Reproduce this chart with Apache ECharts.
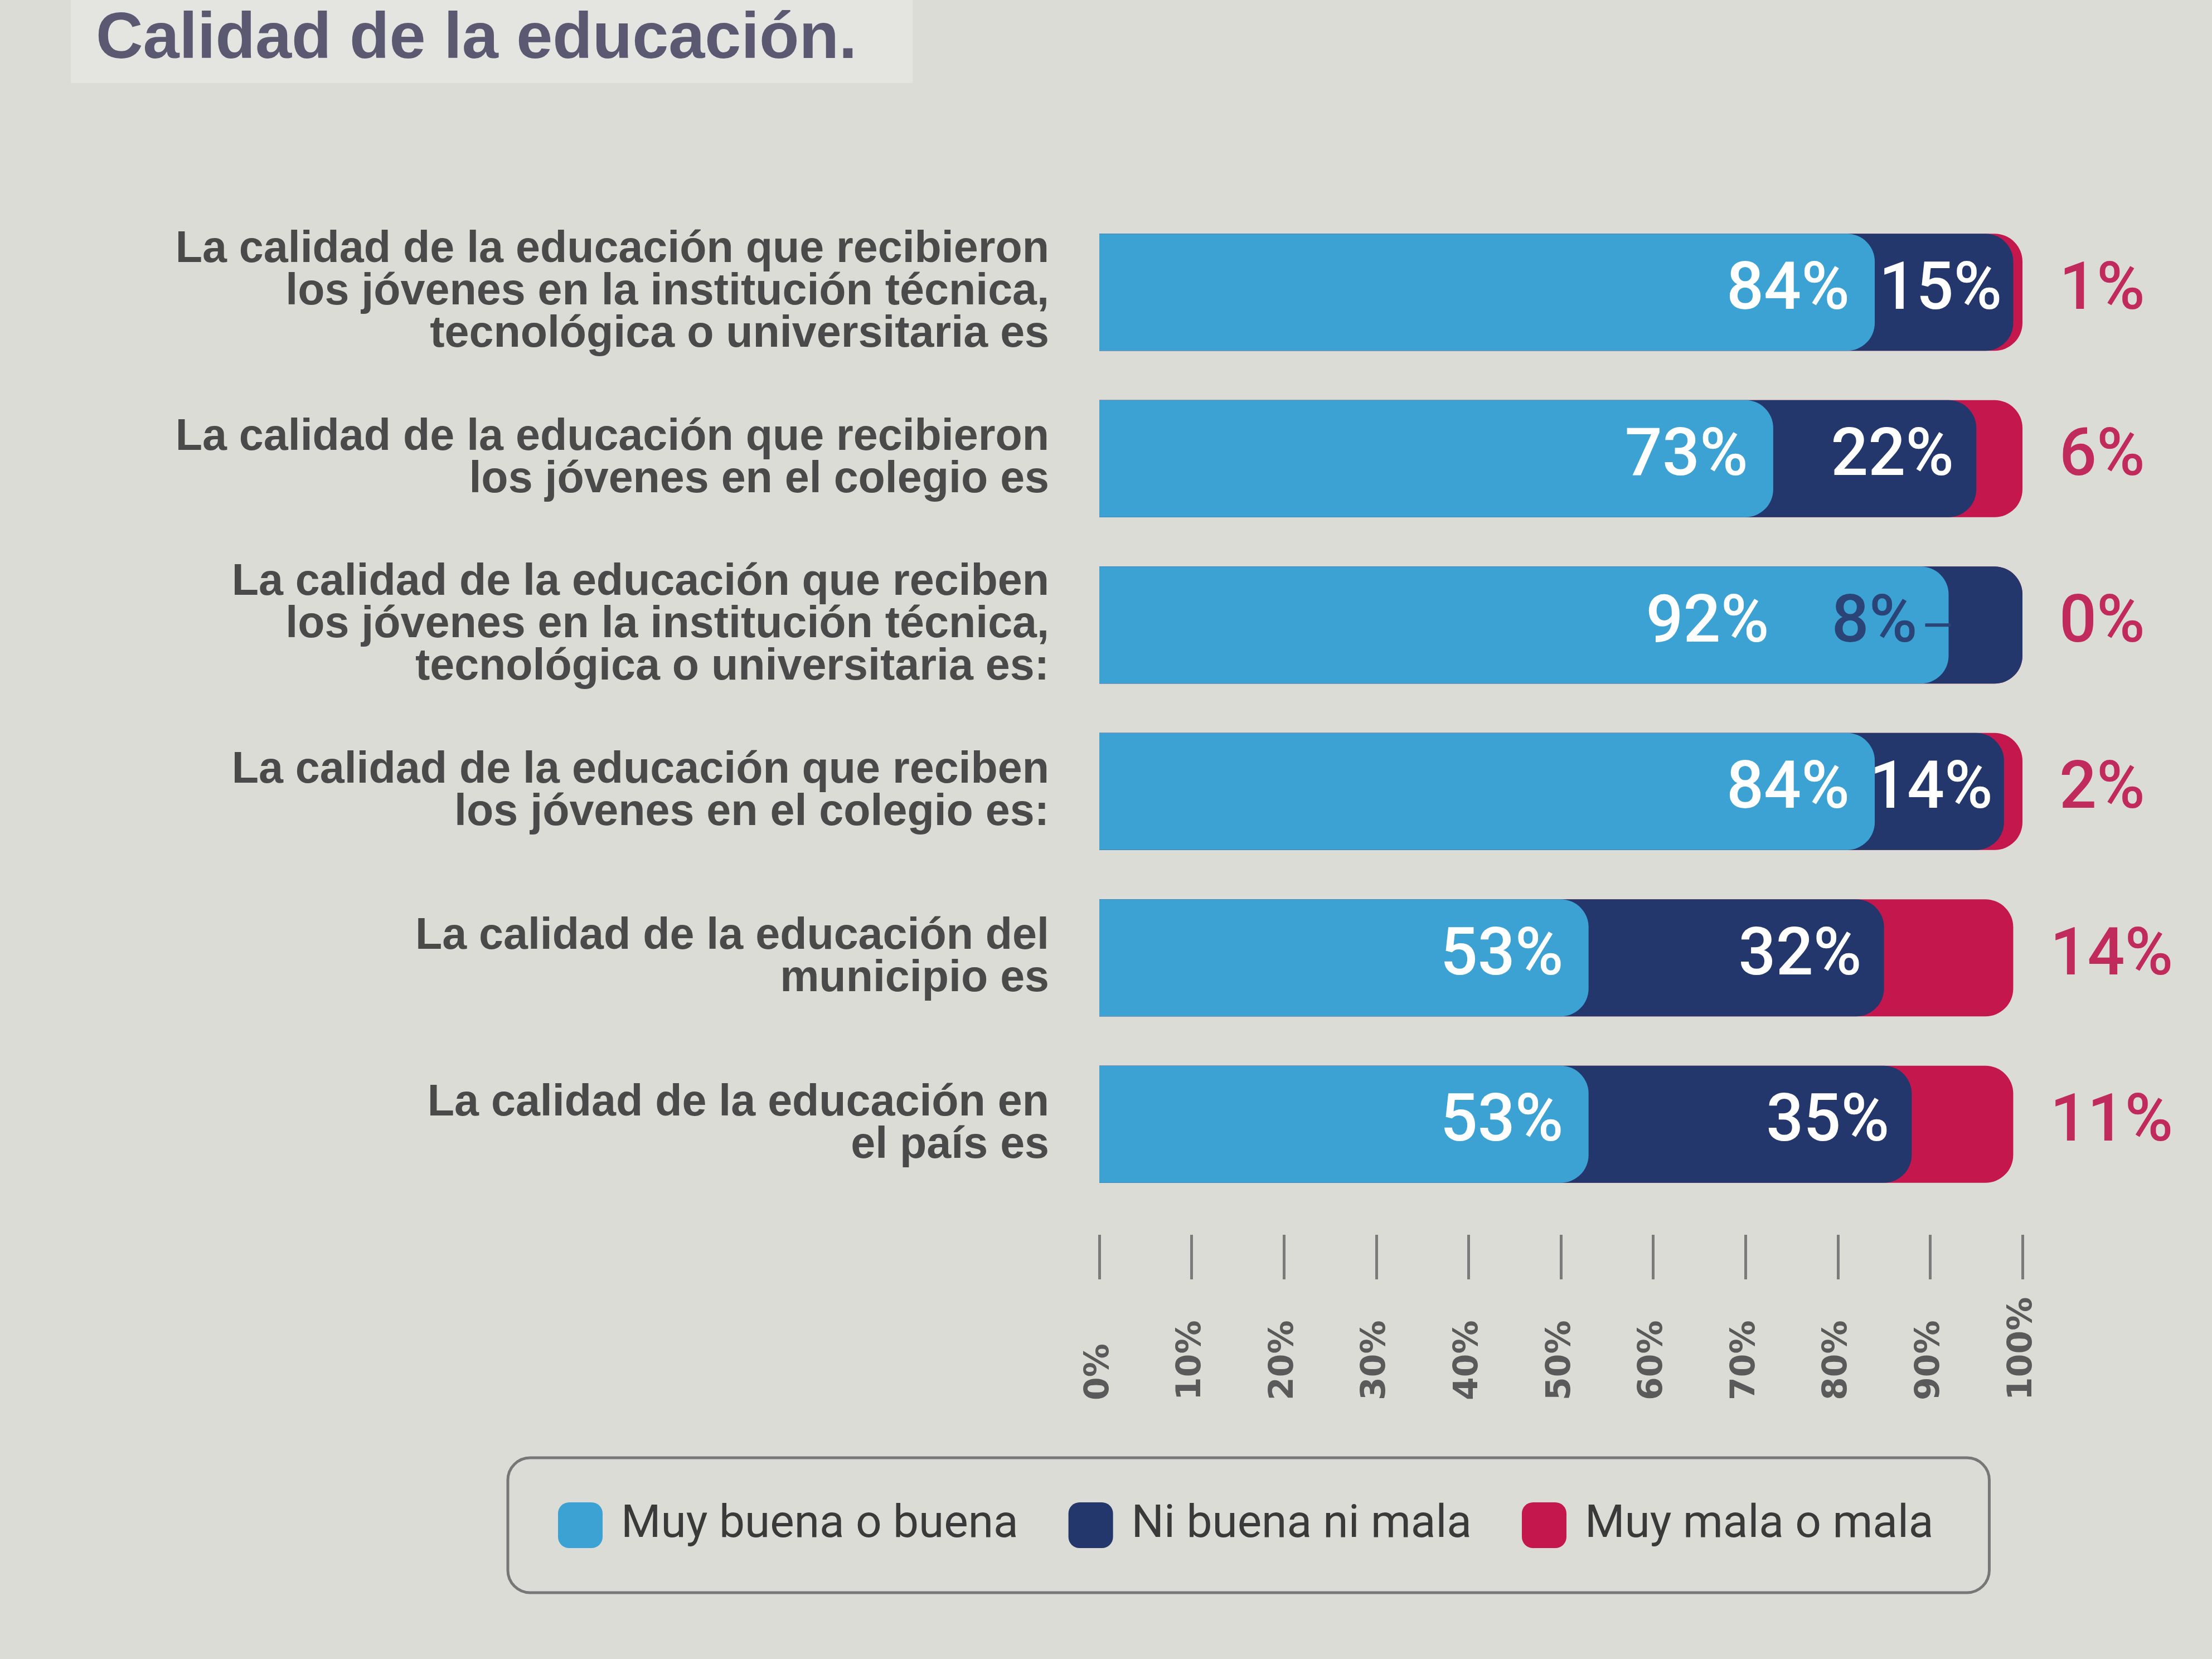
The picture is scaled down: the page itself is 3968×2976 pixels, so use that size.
<!DOCTYPE html>
<html>
<head>
<meta charset="utf-8">
<script src="https://cdn.jsdelivr.net/npm/echarts@6/dist/echarts.min.js"></script>
<style>
  html, body { margin: 0; padding: 0; background: #dcdcd7; }
  #chart { width: 3968px; height: 2976px; }
</style>
</head>
<body>
<div id="chart"></div>
<script>
// ---- data ----
const titleText = 'Calidad de la educación.';
const categories = [
  'La calidad de la educación que recibieron\nlos jóvenes en la institución técnica,\ntecnológica o universitaria es',
  'La calidad de la educación que recibieron\nlos jóvenes en el colegio es',
  'La calidad de la educación que reciben\nlos jóvenes en la institución técnica,\ntecnológica o universitaria es:',
  'La calidad de la educación que reciben\nlos jóvenes en el colegio es:',
  'La calidad de la educación del\nmunicipio es',
  'La calidad de la educación en\nel país es'
];
const seriesNames = ['Muy buena o buena', 'Ni buena ni mala', 'Muy mala o mala'];
const good = [84, 73, 92, 84, 53, 53];
const neutral = [15, 22, 8, 14, 32, 35];
const bad = [1, 6, 0, 2, 14, 11];
const tickValues = [0, 10, 20, 30, 40, 50, 60, 70, 80, 90, 100];
const tickLabels = ['0%', '10%', '20%', '30%', '40%', '50%', '60%', '70%', '80%', '90%', '100%'];

// ---- styles ----
const C_GOOD = '#3ca1d3';
const C_NEUT = '#24376c';
const C_BAD = '#c4174e';
const C_BAD_TXT = '#c02a5c';
const C_SMALL_TXT = '#2a4477';
const GRID_LEFT = 1972, GRID_RIGHT = 340;
const GRID_W = 3968 - GRID_LEFT - GRID_RIGHT;
const R = 50;
const BAR_W = 210;
const valFont = { fontFamily: 'Roboto', fontWeight: 500, fontSize: 118 };
const NONE = 'rgba(0,0,0,0)';

// drawn segments: overlapped (not stacked) so every segment gets a rounded right end
const goodEnd = good.map(v => v);
const neutEnd = good.map((v, i) => v + neutral[i]);
const badEnd = good.map((v, i) => v + neutral[i] + bad[i]);

// a very small middle segment gets its label outside, to the left, with a short leader;
// the first label of that row moves left to make room
const goodLabelData = good.map((v, i) => {
  if (neutral[i] >= 10) return v;
  return { value: v, label: { distance: 322 } };
});
const neutLabelData = neutral.map((v, i) => {
  if (v >= 20) return v;
  if (v >= 10) return { value: v, label: { distance: 20 } };
  return {
    value: v,
    label: {
      distance: GRID_W * v / 100 - 4,
      formatter: '{v|' + v + '%}{sp|}{ln|}',
      rich: {
        v: Object.assign({ color: C_SMALL_TXT }, valFont),
        sp: { width: 14, height: 6 },
        ln: { width: 46, height: 6, backgroundColor: C_SMALL_TXT }
      }
    }
  };
});

function drawSeries(name, data, color, z) {
  return {
    name: name, type: 'bar', data: data, barWidth: BAR_W, barGap: '-100%', z: z,
    silent: true,
    itemStyle: { color: color, borderRadius: [0, R, R, 0] },
    label: { show: false }
  };
}
function labelSeries(name, data, label) {
  return {
    name: name, type: 'bar', stack: 'labels', data: data, barWidth: BAR_W, barGap: '-100%', z: 10,
    silent: true,
    itemStyle: { color: NONE },
    label: Object.assign({ show: true, formatter: p => p.value + '%' }, valFont, label)
  };
}

const chart = echarts.init(document.getElementById('chart'), null, { renderer: 'canvas' });
chart.setOption({
  backgroundColor: '#dcdcd7',
  animation: false,
  color: [C_GOOD, C_NEUT, C_BAD],
  title: {
    text: titleText,
    left: 127,
    top: 0,
    padding: [13, 100, 19, 45],
    backgroundColor: '#e4e4e0',
    textStyle: { fontFamily: 'Liberation Sans', fontWeight: 'bold', fontSize: 117, color: '#5b5872' }
  },
  legend: {
    data: seriesNames,
    left: 911,
    top: 2615,
    orient: 'horizontal',
    icon: 'roundRect',
    itemWidth: 80,
    itemHeight: 82,
    itemGap: 90,
    padding: [80, 100, 80, 90],
    borderColor: '#777777',
    borderWidth: 5,
    borderRadius: 40,
    textStyle: { fontFamily: 'Roboto', fontSize: 82, color: '#3a3a3a', padding: [0, 0, 0, 28] }
  },
  grid: { left: GRID_LEFT, right: GRID_RIGHT, top: 375, bottom: 810, containLabel: false },
  xAxis: {
    type: 'value',
    min: 0,
    max: 100,
    interval: 10,
    offset: 49,
    axisLine: { show: false },
    splitLine: { show: false },
    axisTick: { show: true, length: 80, lineStyle: { color: '#7b7b7b', width: 5 } },
    axisLabel: {
      rotate: 90,
      align: 'left',
      verticalAlign: 'middle',
      margin: 297,
      color: '#5a5a5a',
      fontFamily: 'DejaVu Sans',
      fontWeight: 'bold',
      fontSize: 60,
      formatter: v => tickLabels[tickValues.indexOf(v)]
    }
  },
  yAxis: {
    type: 'category',
    inverse: true,
    data: categories,
    axisLine: { show: false },
    axisTick: { show: false },
    axisLabel: {
      margin: 90,
      color: '#4a4a4a',
      fontFamily: 'Liberation Sans',
      fontWeight: 'bold',
      fontSize: 79,
      lineHeight: 76,
      align: 'right'
    }
  },
  series: [
    drawSeries(seriesNames[2], badEnd, C_BAD, 2),
    drawSeries(seriesNames[1], neutEnd, C_NEUT, 3),
    drawSeries(seriesNames[0], goodEnd, C_GOOD, 4),
    labelSeries('lbl-good', goodLabelData, { position: 'insideRight', distance: 45, color: '#ffffff' }),
    labelSeries('lbl-neutral', neutLabelData, { position: 'insideRight', distance: 40, color: '#ffffff' }),
    labelSeries('lbl-bad', bad, { position: 'right', distance: 66, color: C_BAD_TXT })
  ]
});
</script>
</body>
</html>
